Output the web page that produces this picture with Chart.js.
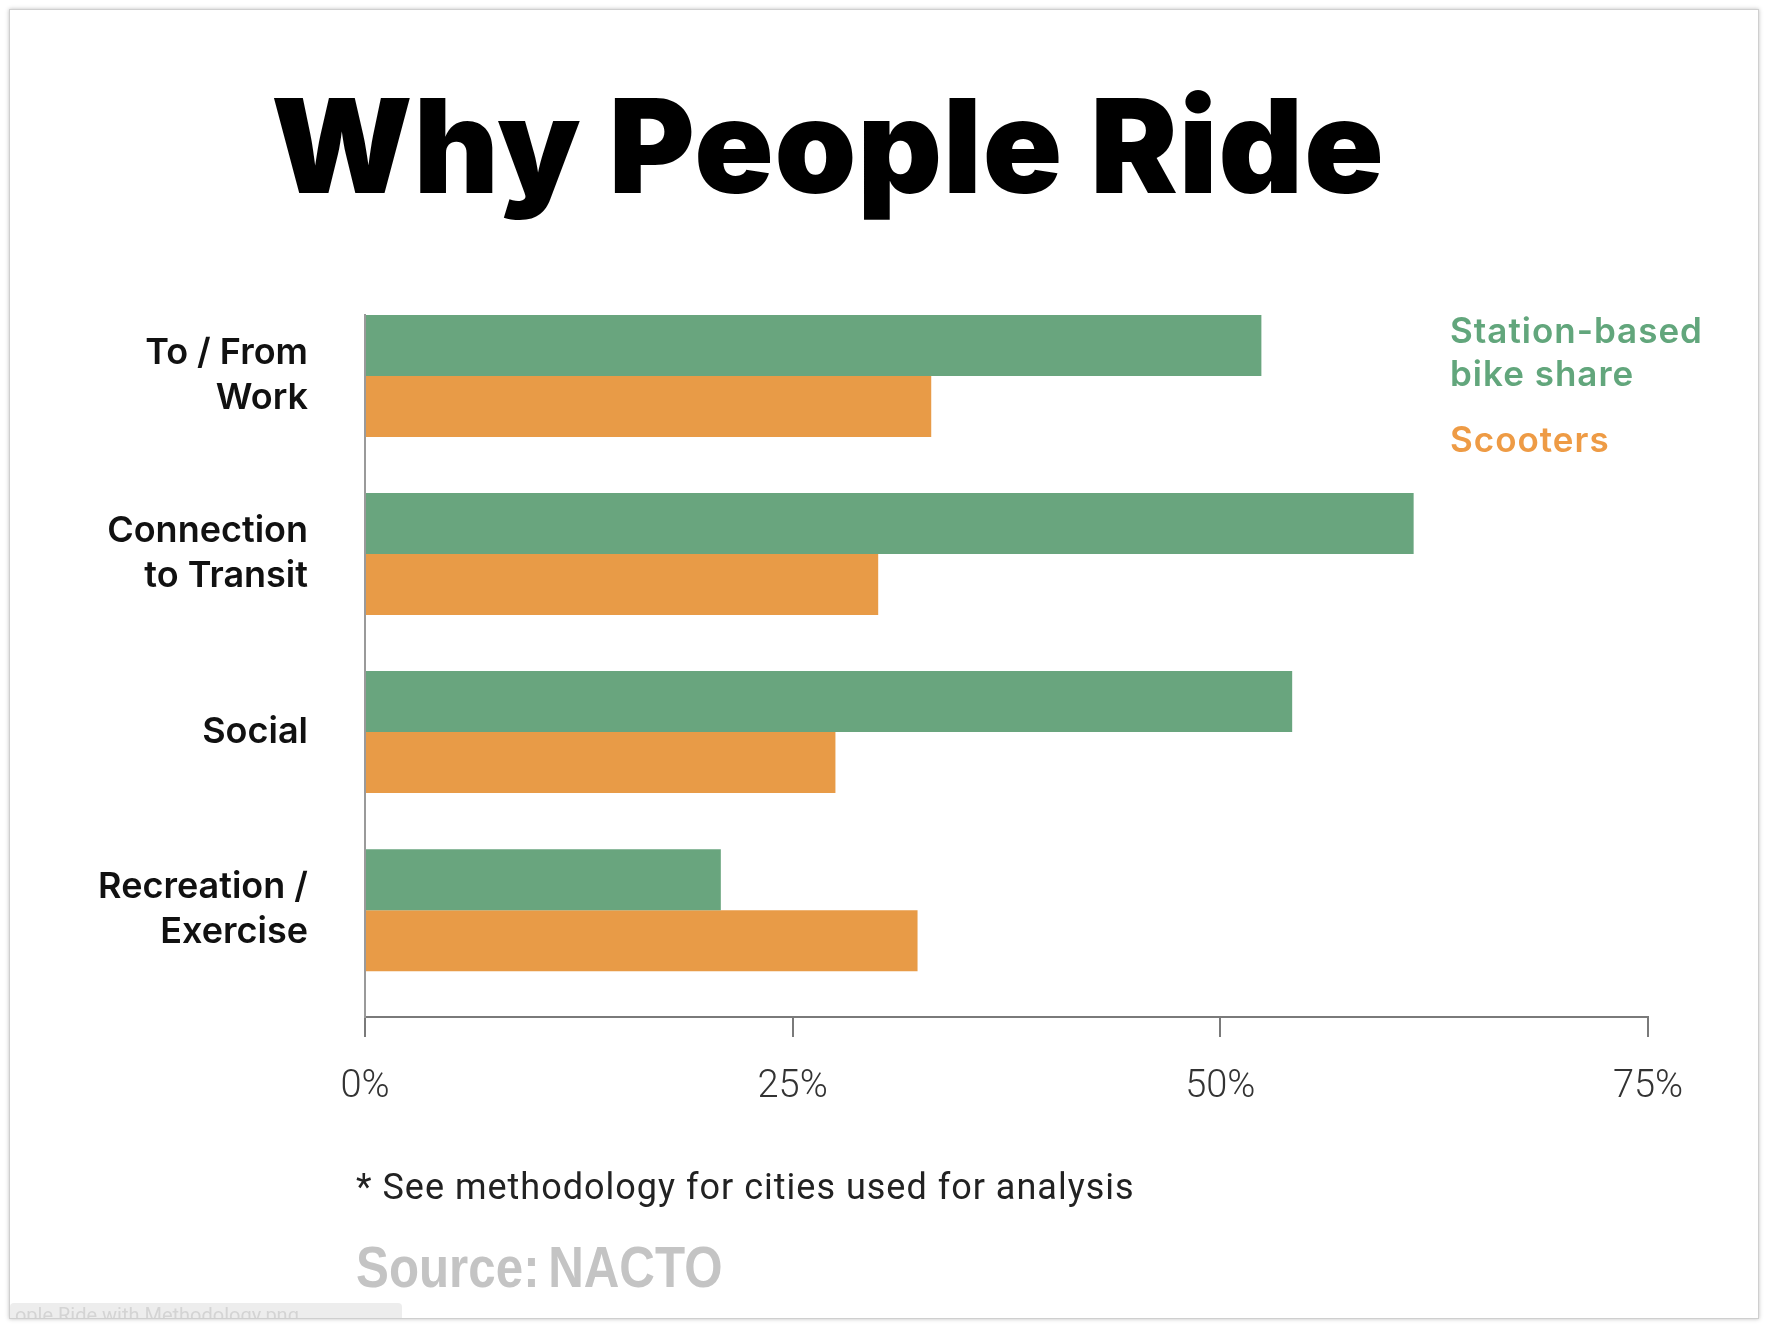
<!DOCTYPE html>
<html>
<head>
<meta charset="utf-8">
<title>Why People Ride</title>
<script src="https://cdn.jsdelivr.net/npm/chart.js@4.4.1/dist/chart.umd.min.js"></script>
<style>
    html, body { margin: 0; padding: 0; background: #fff; }
    body { width: 1770px; height: 1328px; position: relative; overflow: hidden; }
    #frame {
        position: absolute; left: 9px; top: 9px; width: 1748px; height: 1308px;
        border: 1px solid #cfcfcf; box-shadow: 0 0 4px rgba(0, 0, 0, 0.25);
    }
    #rideChart { position: absolute; left: 0; top: 0; }
    #title {
        position: absolute; left: 271px; top: 80px; white-space: nowrap;
        font-family: Inter, sans-serif; font-weight: 900; font-size: 131px;
        line-height: 1; color: #000; letter-spacing: 1px;
    }
    .legend {
        position: absolute; left: 1450px; white-space: nowrap;
        font-family: Inter, sans-serif; font-weight: 600; font-size: 35px; line-height: 43px;
        letter-spacing: 1px;
    }
    #legBike { top: 309px; color: #62a67c; }
    #legScoot { top: 418px; color: #ee9b45; }
    #note {
        position: absolute; left: 356px; top: 1169px; white-space: nowrap;
        font-family: Roboto, sans-serif; font-size: 36px; line-height: 1; color: #222;
        letter-spacing: 1px;
    }
    #source {
        position: absolute; left: 356px; top: 1238px; white-space: nowrap;
        font-family: "Liberation Sans", sans-serif; font-weight: 700; font-size: 58px;
        line-height: 1; color: #c4c4c4; transform: scaleX(0.85); transform-origin: left top;
        word-spacing: -6px;
    }
    #tab {
        position: absolute; left: 10px; top: 1303px; width: 392px; height: 15px; overflow: hidden;
        background: #ededed; border-radius: 4px 4px 0 0;
        font-family: Roboto, sans-serif; font-size: 20px; line-height: 24px; color: #d4d4d4;
    }
</style>
</head>
<body>
<div id="frame"></div>
<div id="title">Why People Ride</div>
<canvas id="rideChart" width="1770" height="1328"></canvas>
<div class="legend" id="legBike">Station-based<br>bike share</div>
<div class="legend" id="legScoot">Scooters</div>
<div id="note">* See methodology for cities used for analysis</div>
<div id="source">Source: NACTO</div>
<div id="tab">&nbsp;ople Ride with Methodology.png</div>
<script>
// Данные
const categories = [['To / From', 'Work'], ['Connection', 'to Transit'], ['Social'], ['Recreation /', 'Exercise']];
const bikeShare = [52.4, 61.3, 54.2, 20.8];
const scooters = [33.1, 30, 27.5, 32.3];
const xTicks = [0, 25, 50, 75];

const toPoints = (values) => values.map((v, i) => ({ x: v, y: i }));

const ctx = document.getElementById('rideChart').getContext('2d');
const rideChart = new Chart(ctx, {
    type: 'bar',
    data: {
        datasets: [{
            label: 'Station-based bike share',
            data: toPoints(bikeShare),
            backgroundColor: '#69a57e',
            borderWidth: 0
        }, {
            label: 'Scooters',
            data: toPoints(scooters),
            backgroundColor: '#e89b47',
            borderWidth: 0
        }]
    },
    options: {
        indexAxis: 'y',
        responsive: false,
        animation: false,
        categoryPercentage: 0.685,
        barPercentage: 1,
        layout: {
            padding: { top: 315, right: 122, left: 0, bottom: 0 }
        },
        plugins: {
            legend: { display: false },
            tooltip: { enabled: false }
        },
        scales: {
            x: {
                type: 'linear',
                min: 0,
                max: 75,
                afterBuildTicks: (scale) => { scale.ticks = xTicks.map(v => ({ value: v })); },
                afterFit: (scale) => { scale.height = 311; },
                grid: {
                    drawOnChartArea: false,
                    drawTicks: true,
                    tickLength: 20,
                    color: '#7a7a7a',
                    lineWidth: 2
                },
                border: { color: '#7a7a7a', width: 2 },
                ticks: {
                    padding: 28,
                    color: '#333',
                    font: { family: 'Roboto', weight: 300, size: 38 },
                    callback: (v) => v + '%'
                }
            },
            y: {
                type: 'linear',
                offset: false,
                reverse: true,
                min: -0.3425,
                max: 3.6,
                afterBuildTicks: (scale) => { scale.ticks = categories.map((c, i) => ({ value: i })); },
                afterFit: (scale) => { scale.width = 365; },
                grid: { display: false, drawTicks: false },
                border: { color: '#9a9a9a', width: 2 },
                ticks: {
                    padding: 57,
                    color: '#111',
                    font: { family: 'Inter', weight: 600, size: 36, lineHeight: 1.25 },
                    callback: (v) => categories[v]
                }
            }
        }
    }
});
</script>
</body>
</html>
